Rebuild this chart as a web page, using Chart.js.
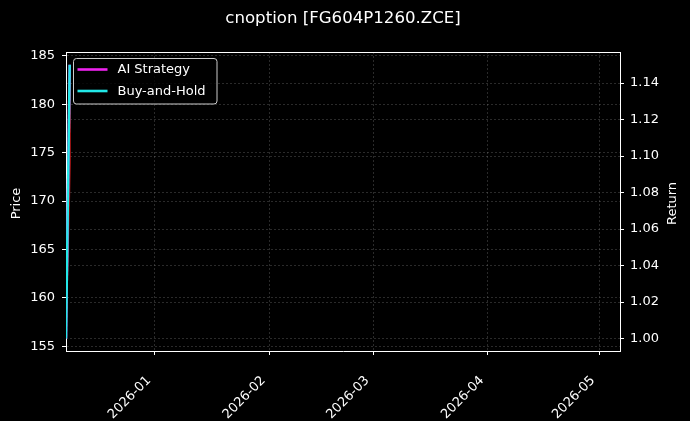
<!DOCTYPE html>
<html>
<head>
<meta charset="utf-8">
<script src="https://cdn.jsdelivr.net/npm/chart.js@4.4.1/dist/chart.umd.min.js"></script>
<style>
    html, body { margin: 0; padding: 0; background: #000; }
    #wrap { width: 690px; height: 421px; position: relative; }
</style>
</head>
<body>
<div id="wrap"><canvas id="chart"></canvas></div>
<script>
const chartTitle = "cnoption [FG604P1260.ZCE]";
const priceAxisLabel = "Price";
const returnAxisLabel = "Return";

// series
const priceDates = ["2025-12-08", "2025-12-09T04:00", "2025-12-09T04:00"];
const priceValues = [155.9, 174.0, 184.0];
const returnDates = ["2025-12-08", "2025-12-09"];
const aiStrategyValues = [1.0, 1.15];
const buyAndHoldValues = [1.0, 1.15];

// ticks
const monthTickDates = ["2026-01-01", "2026-02-01", "2026-03-01", "2026-04-01", "2026-05-01"];
const monthTickLabels = ["2026-01", "2026-02", "2026-03", "2026-04", "2026-05"];
const priceTicks = [155, 160, 165, 170, 175, 180, 185];
const returnTicks = [1.0, 1.02, 1.04, 1.06, 1.08, 1.1, 1.12, 1.14];

const toMs = (s) => Date.parse(s.length === 10 ? `${s}T00:00:00Z` : `${s}Z`);
const FONT = "'DejaVu Sans', sans-serif";

const colors = {
    price: "rgba(200, 25, 25, 0.75)",
    ai: "#ee22ee",
    hold: "#22e8e8",
    grid: "rgba(150, 150, 150, 0.4)",
    text: "#ffffff",
};

const toPoints = (dates, values) => dates.map((d, i) => ({ x: toMs(d), y: values[i] }));

// legend inside the plot, title and axis labels
const decorations = {
    id: "decorations",
    afterDatasetsDraw(chart) {
        const { ctx, chartArea } = chart;
        const items = chart.data.datasets.filter((d) => d.inLegend);
        const x0 = chartArea.left + 7.5;
        const y0 = chartArea.top + 6.5;
        const w = 143.5;
        const h = 45.5;
        ctx.save();
        ctx.beginPath();
        ctx.roundRect(x0, y0, w, h, 3);
        ctx.fillStyle = "rgba(0, 0, 0, 0.8)";
        ctx.fill();
        ctx.strokeStyle = "#cccccc";
        ctx.lineWidth = 1;
        ctx.stroke();
        ctx.font = `13px ${FONT}`;
        ctx.textAlign = "left";
        ctx.textBaseline = "middle";
        items.forEach((d, i) => {
            const y = y0 + 11 + i * 21.5;
            ctx.beginPath();
            ctx.moveTo(x0 + 4, y);
            ctx.lineTo(x0 + 34, y);
            ctx.strokeStyle = d.borderColor;
            ctx.lineWidth = 2.6;
            ctx.stroke();
            ctx.fillStyle = colors.text;
            ctx.fillText(d.label, x0 + 44, y + 0.5);
        });
        ctx.restore();
    },
    afterDraw(chart) {
        const { ctx, chartArea } = chart;
        ctx.save();
        // top spine
        ctx.beginPath();
        ctx.moveTo(chartArea.left, chartArea.top + 0.5);
        ctx.lineTo(chartArea.right, chartArea.top + 0.5);
        ctx.strokeStyle = "#ffffff";
        ctx.lineWidth = 1;
        ctx.stroke();

        ctx.fillStyle = colors.text;
        ctx.textAlign = "center";
        ctx.textBaseline = "middle";
        ctx.font = `16.6px ${FONT}`;
        ctx.fillText(chartTitle, (chartArea.left + chartArea.right) / 2, 19);

        ctx.font = `13px ${FONT}`;
        const midY = (chartArea.top + chartArea.bottom) / 2 + 2;
        ctx.translate(17, midY);
        ctx.rotate(-Math.PI / 2);
        ctx.fillText(priceAxisLabel, 0, 0);
        ctx.rotate(Math.PI / 2);
        ctx.translate(672.5 - 17, 0);
        ctx.rotate(-Math.PI / 2);
        ctx.fillText(returnAxisLabel, 0, 0);
        ctx.restore();
    },
};

const gridOpts = {
    color: colors.grid,
    lineWidth: 0.7,
    tickLength: 4,
    tickColor: "#ffffff",
    tickWidth: 1,
};
const borderOpts = { color: "#ffffff", width: 1, dash: [2, 2] };
const tickFont = { family: FONT, size: 13 };

new Chart(document.getElementById("chart"), {
    type: "line",
    data: {
        datasets: [
            {
                label: "Price",
                data: toPoints(priceDates, priceValues),
                yAxisID: "y",
                borderColor: colors.price,
                borderWidth: 1.3,
                pointRadius: 0,
                order: 2,
                inLegend: false,
            },
            {
                label: "AI Strategy",
                data: toPoints(returnDates, aiStrategyValues),
                yAxisID: "y1",
                borderColor: colors.ai,
                borderWidth: 2.5,
                pointRadius: 0,
                order: 1,
                inLegend: true,
            },
            {
                label: "Buy-and-Hold",
                data: toPoints(returnDates, buyAndHoldValues),
                yAxisID: "y1",
                borderColor: colors.hold,
                borderWidth: 2.5,
                pointRadius: 0,
                order: 0,
                inLegend: true,
            },
        ],
    },
    options: {
        responsive: true,
        maintainAspectRatio: false,
        animation: false,
        layout: { padding: { top: 52, left: 0, right: 0, bottom: 0 } },
        plugins: { legend: { display: false }, tooltip: { enabled: false } },
        scales: {
            x: {
                type: "linear",
                min: toMs("2025-12-08"),
                max: toMs("2026-05-06T16:00"),
                grid: gridOpts,
                border: borderOpts,
                ticks: {
                    color: colors.text,
                    font: tickFont,
                    autoSkip: false,
                    minRotation: 45,
                    maxRotation: 45,
                    padding: 18,
                    labelOffset: -6,
                    callback: (value, index) => monthTickLabels[index],
                },
                afterBuildTicks: (axis) => {
                    axis.ticks = monthTickDates.map((d) => ({ value: toMs(d) }));
                },
                afterFit: (axis) => {
                    axis.height = 70;
                    axis.paddingLeft = 0;
                    axis.paddingRight = 0;
                },
            },
            y: {
                position: "left",
                min: 154.51,
                max: 185.41,
                grid: gridOpts,
                border: borderOpts,
                ticks: {
                    color: colors.text,
                    font: tickFont,
                    padding: 7,
                    callback: (value) => String(value),
                },
                afterBuildTicks: (axis) => {
                    axis.ticks = priceTicks.map((v) => ({ value: v }));
                },
                afterFit: (axis) => {
                    axis.width = 66;
                },
            },
            y1: {
                position: "right",
                min: 0.9932,
                max: 1.157,
                grid: gridOpts,
                border: borderOpts,
                ticks: {
                    color: colors.text,
                    font: tickFont,
                    padding: 6,
                    callback: (value) => value.toFixed(2),
                },
                afterBuildTicks: (axis) => {
                    axis.ticks = returnTicks.map((v) => ({ value: v }));
                },
                afterFit: (axis) => {
                    axis.width = 70;
                },
            },
        },
    },
    plugins: [decorations],
});
</script>
</body>
</html>
